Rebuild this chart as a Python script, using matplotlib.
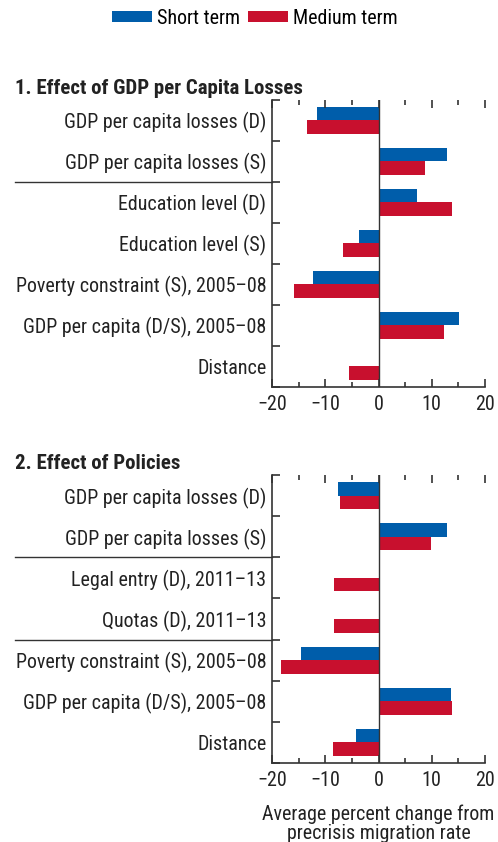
import matplotlib
matplotlib.use("Agg")
import matplotlib.pyplot as plt
import numpy as np

plt.rcParams['font.family'] = ['Roboto Condensed', 'DejaVu Sans']

# donnees panneau 1
labels_1 = ["GDP per capita losses (D)", "GDP per capita losses (S)", "Education level (D)",
            "Education level (S)", "Poverty constraint (S), 2005\u201308",
            "GDP per capita (D/S), 2005\u201308", "Distance"]
court_1 = [-11.5, 12.9, 7.2, -3.7, -12.3, 15.1, 0]
moyen_1 = [-13.4, 8.7, 13.8, -6.7, -15.9, 12.3, -5.5]
separateurs_1 = [1.5]

# donnees panneau 2
labels_2 = ["GDP per capita losses (D)", "GDP per capita losses (S)", "Legal entry (D), 2011\u201313",
            "Quotas (D), 2011\u201313", "Poverty constraint (S), 2005\u201308",
            "GDP per capita (D/S), 2005\u201308", "Distance"]
court_2 = [-7.6, 12.9, 0, 0, -14.5, 13.6, -4.2]
moyen_2 = [-7.2, 9.9, -8.3, -8.3, -18.4, 13.8, -8.5]
separateurs_2 = [1.5, 3.5]

bleu = '#005DAA'
rouge = '#C8102E'
gris = '#333333'
texte = '#222222'
taille = 14.4

fig = plt.figure(figsize=(4.98, 8.42), dpi=100)


def panneau(rect, labels, court, moyen, separateurs, titre, titre_y):
    ax = fig.add_axes(rect)
    y = np.arange(len(labels))
    ax.barh(y - 0.165, court, height=0.33, color=bleu, label='Short term')
    ax.barh(y + 0.165, moyen, height=0.33, color=rouge, label='Medium term')
    ax.axvline(0, color=gris, lw=1)
    ax.set_xlim(-20, 20)
    ax.set_ylim(len(labels) - 0.5, -0.5)
    for s in ['top', 'right']:
        ax.spines[s].set_visible(False)
    for s in ['left', 'bottom']:
        ax.spines[s].set_color(gris)
        ax.spines[s].set_linewidth(1.2)
    ax.set_yticks(y)
    ax.set_yticklabels(labels, fontsize=taille, color=texte)
    ax.set_yticks(np.arange(len(labels) + 1) - 0.5, minor=True)
    ax.tick_params(axis='y', which='major', length=0, pad=4)
    ax.tick_params(axis='y', which='minor', direction='in', length=6, width=1.2, color=gris)
    ax.set_xticks([-20, -10, 0, 10, 20])
    ax.set_xticklabels(['\u221220', '\u221210', '0', '10', '20'], fontsize=taille, color=texte)
    ax.set_xticks([-15, -5, 5, 15], minor=True)
    ax.tick_params(axis='x', which='major', direction='in', length=6, width=1.2, color=gris,
                   top=True, pad=6)
    ax.tick_params(axis='x', which='minor', direction='in', length=3.5, width=1.2, color=gris,
                   top=True)
    tr = ax.get_yaxis_transform()
    for s in separateurs:
        ax.plot([-1.207, 0], [s, s], transform=tr, color=gris, lw=1, clip_on=False)
    fig.text(15 / 498, 1 - titre_y / 842, titre, fontsize=15, fontweight='bold',
             color=texte, va='center', ha='left')
    return ax


ax1 = panneau([0.5462, 0.5404, 0.4277, 0.3409], labels_1, court_1, moyen_1,
              separateurs_1, "1. Effect of GDP per Capita Losses", 88)
ax2 = panneau([0.5462, 0.0938, 0.4277, 0.3420], labels_2, court_2, moyen_2,
              separateurs_2, "2. Effect of Policies", 463)
ax2.set_xlabel("Average percent change from\nprecrisis migration rate", fontsize=taille,
               color=texte, linespacing=1.05, labelpad=10)

h, l = ax1.get_legend_handles_labels()
fig.legend(h, l, loc='center', bbox_to_anchor=(255 / 498, 1 - 18 / 842), ncol=2,
           frameon=False, fontsize=taille, handlelength=2.0, handleheight=0.5,
           handletextpad=0.25, columnspacing=0.4)

fig.savefig('out.png', dpi=100)
